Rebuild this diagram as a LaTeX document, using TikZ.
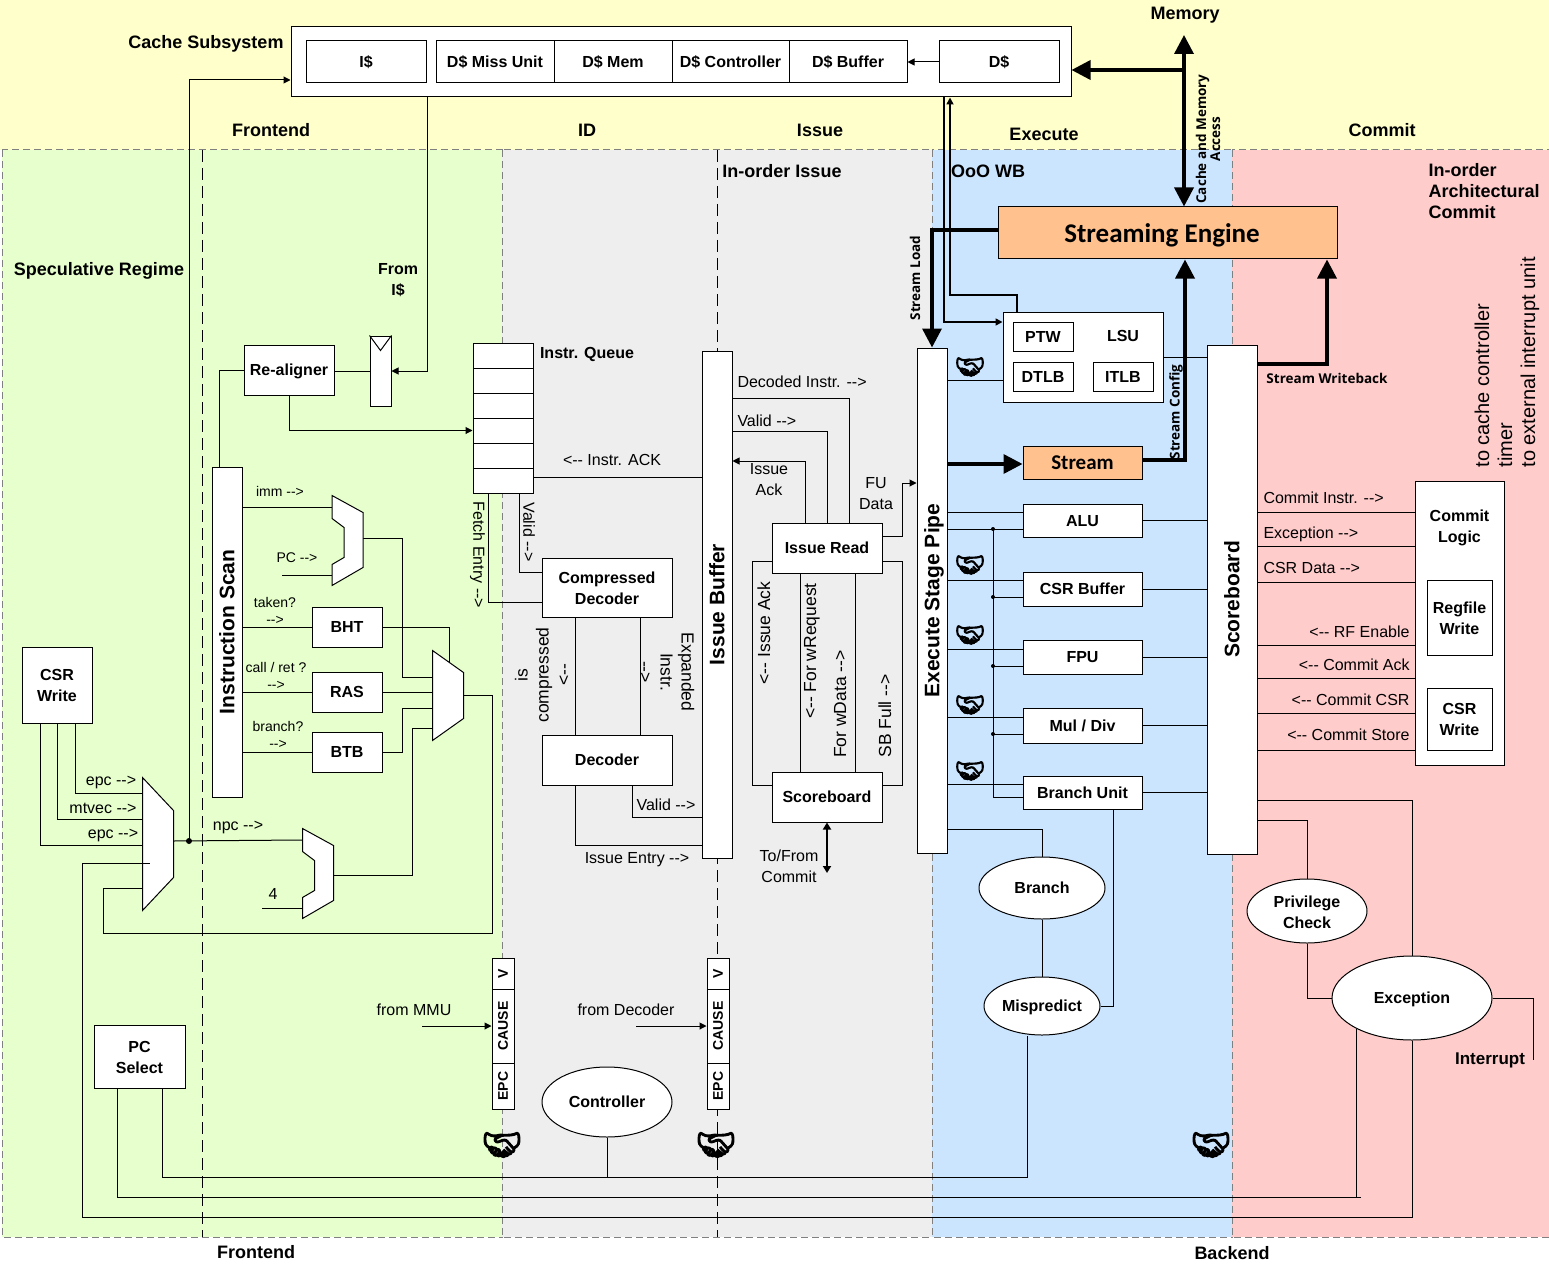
\documentclass[tikz,border=0pt]{standalone}
\usepackage{fontspec}
\setmainfont{Liberation Sans}
\newfontfamily\engfont{Carlito}
\newfontfamily\tagfont{Open Sans}
\newfontfamily\emojifont{Noto Emoji}[FakeBold=5]
\usetikzlibrary{arrows.meta,shapes.geometric,calc}
\definecolor{zoneyellow}{HTML}{FFFFCC}
\definecolor{zonegreen}{HTML}{E6FFCC}
\definecolor{zonegrey}{HTML}{EEEEEE}
\definecolor{zoneblue}{HTML}{CCE5FF}
\definecolor{zonered}{HTML}{FFCCCC}
\definecolor{streamfill}{HTML}{FFC28E}
\newcommand{\ra}{-{}->}
\newcommand{\la}{<-{}-}
\newcommand{\muxpoly}[2]{\draw[fill=white] (#1.north west) -- ([yshift=-#2]#1.north east) -- ([yshift=#2]#1.south east) -- (#1.south west) -- cycle;}
\newcommand{\adderpoly}[1]{\draw[fill=white] (#1.north west) -- ([yshift=-17pt]#1.north east) -- ([yshift=18pt]#1.south east) -- (#1.south west) -- ([yshift=21pt]#1.south west) -- ([xshift=12pt,yshift=28pt]#1.south west) -- ([xshift=12pt,yshift=-32pt]#1.north west) -- ([yshift=-23pt]#1.north west) -- cycle;}

\begin{document}
\begin{tikzpicture}[
  x=1pt, y=-1pt,
  line width=1pt,
  zone/.style={draw=gray, dashed, dash pattern=on 7pt off 4pt, line width=1pt},
  linebox/.style={execute at begin node={\leavevmode\rule[-0.21em]{0pt}{1.12em}}},
  box/.style 2 args={linebox, draw=black, fill=white, rectangle, minimum width=#1pt, minimum height=#2pt, inner sep=0pt, align=center, font=\fontsize{16}{21}\selectfont\bfseries},
  oval/.style 2 args={linebox, draw=black, fill=white, ellipse, minimum width=#1pt, minimum height=#2pt, inner sep=0pt, align=center, font=\fontsize{16}{21}\selectfont\bfseries},
  boxtext/.style={linebox, inner sep=0pt, align=center, font=\fontsize{16}{21}\selectfont\bfseries},
  muxbase/.style 2 args={minimum width=#1pt, minimum height=#2pt, inner sep=0pt},
  lab/.style={linebox, inner sep=0pt, align=center, font=\fontsize{16}{21}\selectfont},
  small/.style={linebox, inner sep=0pt, align=center, font=\fontsize{14}{17}\selectfont},
  rotlab/.style={linebox, inner sep=0pt, align=center, font=\fontsize{17.5}{21}\selectfont},
  head/.style={linebox, inner sep=0pt, align=center, font=\fontsize{18}{21}\selectfont\bfseries},
  barlab/.style={linebox, inner sep=0pt, rotate=90, font=\fontsize{21}{24}\selectfont\bfseries},
  fieldlab/.style={linebox, inner sep=0pt, rotate=90, font=\fontsize{14}{16}\selectfont\bfseries},
  tag/.style={inner sep=0pt, align=center, font=\fontsize{13.5}{14}\selectfont\tagfont\bfseries},
  hand/.style={inner sep=0pt, font=\fontsize{24}{24}\selectfont\emojifont},
  edge/.style={-{Triangle[length=7pt,width=7pt]}},
  heavy/.style={line width=3.5pt, -{Triangle[length=19pt,width=19pt]}},
  double line/.style={line width=1.6pt}
]
  \useasboundingbox (0,0) rectangle (1549,1265);

  % zones
  \fill[zoneyellow] (0,0) rectangle (1549,150);
  \path[zone, fill=zonegreen] (2,150) rectangle (502,1237);
  \path[zone, fill=zonegrey] (502,150) rectangle (932,1237);
  \path[zone, fill=zoneblue] (932,150) rectangle (1232,1237);
  \path[zone, fill=zonered] (1232,150) rectangle (1549,1237);
  \draw[dashed, dash pattern=on 12pt off 6pt] (202,150) -- (202,1237);
  \draw[dashed, dash pattern=on 12pt off 6pt] (717,150) -- (717,1237);

  % cache subsystem
  \node[box={780}{70}] (cache) at (681,62) {};
  \node[box={120}{42}] (icache) at (366,62) {I\$};
  \node[box={118}{42}] (missunit) at (495,62) {D\$ Miss Unit};
  \node[box={118}{42}] (dmem) at (613,62) {D\$ Mem};
  \node[box={117}{42}] (dctrl) at (730.5,62) {D\$ Controller};
  \node[box={118}{42}] (dbuf) at (848,62) {D\$ Buffer};
  \node[box={120}{42}] (dcache) at (999,62) {D\$};

  % frontend blocks
  \node[box={70}{76}] (csrw) at (57,685) {};
  \node[boxtext] (csrwtext) at (57,687.5) {CSR\\Write};
  \node[box={91}{63}] (pcsel) at (139.5,1056.5) {};
  \node[boxtext] (pcseltext) at (139.5,1059.5) {PC\\Select};
  \node[box={30}{330}] (iscan) at (227,632) {};
  \node[barlab] (iscantext) at (iscan) {Instruction Scan};
  \node[box={90}{50}] (aligner) at (289,370) {Re-aligner};
  \node[box={21}{70}] (ireg) at (380.5,371) {};
  \node[box={70}{40}] (bht) at (347,627) {BHT};
  \node[box={70}{40}] (ras) at (347,692) {RAS};
  \node[box={70}{40}] (btb) at (347,752) {BTB};
  \node[muxbase={30}{132}] (pcmux) at (158,844) {};
  \node[muxbase={30}{89}] (nextmux) at (448,695.5) {};
  \node[muxbase={30}{89}] (immadder) at (347.5,540.5) {};
  \node[muxbase={30}{89}] (npcadder) at (318,873.5) {};
  \foreach \i in {0,...,5}
    \node[box={60}{25}] (queue\i) at (503,355.5+25*\i) {};

  % decode and issue blocks
  \node[box={130}{59}] (cdec) at (607,587.5) {};
  \node[boxtext] (cdectext) at (607,589.5) {Compressed\\Decoder};
  \node[box={130}{50}] (dec) at (607,760) {Decoder};
  \node[box={30}{507}] (ibuf) at (717,604.5) {};
  \node[barlab] (ibuftext) at (ibuf) {Issue Buffer};
  \node[box={110}{50}] (iread) at (827,548) {Issue Read};
  \node[box={110}{50}] (sbsmall) at (827,797) {Scoreboard};
  \node[oval={130}{70}] (ctrl) at (607,1102) {Controller};
  \foreach \n/\x in {l/503,r/718} {
    \node[box={22}{31}] (vf\n) at (\x,973.5) {};
    \node[fieldlab] (vf\n text) at (vf\n) {V};
    \node[box={22}{74}] (cause\n) at (\x,1026) {};
    \node[fieldlab] (cause\n text) at (cause\n) {CAUSE};
    \node[box={22}{46}] (epcf\n) at (\x,1086) {};
    \node[fieldlab] (epcf\n text) at (epcf\n) {EPC};
  }

  % execute blocks
  \node[box={30}{505}] (pipe) at (932,600.5) {};
  \node[barlab] (pipetext) at (pipe) {Execute Stage Pipe};
  \node[box={160}{90}] (lsu) at (1083,357) {};
  \node[box={60}{29}] (ptw) at (1043,336.5) {PTW};
  \node[box={60}{29}] (dtlb) at (1043,376.5) {DTLB};
  \node[box={60}{29}] (itlb) at (1123,376.5) {ITLB};
  \node[box={339}{52}, fill=streamfill, font=\fontsize{27}{30}\selectfont\engfont\bfseries] (engine) at (1167.5,233) {\hspace*{-11pt}Streaming Engine};
  \node[box={119}{33}, fill=streamfill, font=\fontsize{21}{24}\selectfont\engfont\bfseries] (stream) at (1082.5,462.5) {Stream};
  \node[box={119}{33}] (alu) at (1082.5,520.5) {ALU};
  \node[box={119}{34}] (csrbuf) at (1082.5,589) {CSR Buffer};
  \node[box={119}{34}] (fpu) at (1082.5,657) {FPU};
  \node[box={119}{35}] (muldiv) at (1082.5,725.5) {Mul / Div};
  \node[box={119}{33}] (branchu) at (1082.5,792.5) {Branch Unit};
  \node[oval={126}{62}] (branch) at (1042,888) {Branch};
  \node[oval={116}{58}] (mispred) at (1042,1006) {Mispredict};

  % commit blocks
  \node[box={50}{509}] (score) at (1232,599.5) {};
  \node[barlab] (scoretext) at (score) {Scoreboard};
  \node[box={89}{284}] (clogic) at (1459.5,623) {};
  \node[box={65}{75}] (regw) at (1459.5,617.5) {};
  \node[boxtext] (regwtext) at (1459.5,620) {Regfile\\Write};
  \node[box={65}{62}] (ccsr) at (1459.5,719) {};
  \node[boxtext] (ccsrtext) at (1459.5,721) {CSR\\Write};
  \node[oval={120}{64}] (priv) at (1307,911) {};
  \node[boxtext] (privtext) at (1307,913.5) {Privilege\\Check};
  \node[oval={160}{84}] (except) at (1412,998) {Exception};
  \coordinate (memtip) at (1184,35);
  \coordinate (membus) at (1184,70);
  \coordinate (irqend) at (1533,1060);

  % memory and stream paths
  \draw[heavy, {Triangle[length=19pt,width=19pt]}-{Triangle[length=19pt,width=19pt]}] (memtip) -- (engine.north -| memtip);
  \draw[heavy] (membus) -- (cache.east |- membus);
  \draw[heavy] (engine.west |- 0,230) -| (pipe.north);
  \draw[heavy] (pipe.east |- 0,464) -- (stream.west |- 0,464);
  \draw[heavy] (stream.east |- 0,460) -| (1185,0 |- engine.south);
  \draw[heavy] (score.east |- 0,364) -| (1327,0 |- engine.south);
  \draw[double line, edge] (944,0 |- cache.south) |- (lsu.west |- 0,322);
  \draw[double line, edge] (1017,0 |- lsu.north) -- (1017,295) -| (950,0 |- cache.south);
  \draw[edge] (dcache.west) -- (dbuf.east);

  % frontend connectors
  \draw[edge] (427,0 |- cache.south) |- (ireg.east);
  \draw (ireg.west) -- (aligner.east |- ireg.west);
  \draw (aligner.west) -| (219,0 |- iscan.north);
  \draw[edge] (aligner.south) |- (queue3.west);
  \draw (iscan.east |- 0,507) -- (immadder.west |- 0,507);
  \coordinate (pcstart) at (282,575);
  \draw (pcstart) -- (immadder.west |- pcstart);
  \draw (iscan.east |- bht.west) -- (bht.west);
  \draw (iscan.east |- ras.west) -- (ras.west);
  \draw (iscan.east |- btb.west) -- (btb.west);
  \draw (immadder.east |- 0,538) -| (402,677) -- (nextmux.west |- 0,677);
  \draw (bht.east) -| (449,670);
  \draw (ras.east) -- (nextmux.west |- ras.east);
  \draw (btb.east) -| (402,708) -- (nextmux.west |- 0,708);
  \draw (npcadder.east |- 0,875) -| (412,728) -- (nextmux.west |- 0,728);
  \draw (nextmux.east) -| (492,933) -| (103,888) -- (pcmux.west |- 0,888);
  \draw (75,0 |- csrw.south) |- (pcmux.west |- 0,793);
  \draw (57,0 |- csrw.south) |- (pcmux.west |- 0,819);
  \draw (40,0 |- csrw.south) |- (pcmux.west |- 0,845);
  \draw (pcmux.east |- 0,841) -- (npcadder.west |- 0,840);
  \coordinate (pcdot) at (189,841);
  \draw[edge] (pcdot) |- (cache.west |- 0,80);
  \fill (pcdot) circle (3pt);
  \coordinate (fourstart) at (262,908);
  \draw (fourstart) -- (npcadder.west |- fourstart);
  \muxpoly{pcmux}{33pt}
  \muxpoly{nextmux}{22pt}
  \adderpoly{immadder}
  \adderpoly{npcadder}
  \draw (ireg.north west) -- ([yshift=-15pt]ireg.north) -- (ireg.north east);
  \draw (pcsel.south -| 117,0) |- (1361,1197);
  \draw (pcsel.south -| 162,0) |- (1027,1177) -- (1027,0 |- mispred.south);
  \draw (ctrl.south) -- (ctrl.south |- 0,1177);
  \draw (1412,0 |- except.south) |- (82,1217) |- (150,863);

  % decode and issue connectors
  \draw (488,0 |- queue5.south) |- (cdec.west |- 0,602);
  \draw (519,0 |- queue5.south) |- (cdec.west |- 0,572);
  \draw (queue5.east |- 0,477) -- (ibuf.west |- 0,477);
  \draw (575,0 |- cdec.south) -- (575,0 |- dec.north);
  \draw (640,0 |- cdec.south) -- (640,0 |- dec.north);
  \draw (575,0 |- dec.south) |- (ibuf.west |- 0,845);
  \draw (632,0 |- dec.south) |- (ibuf.west |- 0,817);
  \draw (ibuf.east |- 0,398) -| (849,0 |- iread.north);
  \draw (ibuf.east |- 0,431) -| (827,0 |- iread.north);
  \draw[edge] (805,0 |- iread.north) |- (ibuf.east |- 0,461);
  \draw[edge] (iread.east |- 0,536) -| (902,483) -- (pipe.west |- 0,483);
  \draw (iread.west |- 0,561) -| (752,785) -- (sbsmall.west |- 0,785);
  \draw (iread.east |- 0,561) -| (902,785) -- (sbsmall.east |- 0,785);
  \draw (800,0 |- iread.south) -- (800,0 |- sbsmall.north);
  \draw (855,0 |- iread.south) -- (855,0 |- sbsmall.north);
  \coordinate (commitend) at (827,873);
  \draw[line width=2.5pt, {Triangle[length=7pt,width=8pt]}-{Triangle[length=7pt,width=8pt]}] (sbsmall.south) -- (commitend);
  \coordinate (mmustart) at (422,1026);
  \coordinate (decstart) at (636,1026);
  \draw[edge] (mmustart) -- (causel.west);
  \draw[edge] (decstart) -- (causer.west);

  % execute connectors
  \draw (pipe.east |- 0,380) -- (lsu.west |- 0,380);
  \draw (lsu.east |- 0,357) -- (score.west |- 0,357);
  \draw (pipe.east |- 0,512) -- (alu.west |- 0,512);
  \draw (pipe.east |- 0,529) -- (alu.west |- 0,529);
  \draw (pipe.east |- 0,580) -- (csrbuf.west |- 0,580);
  \draw (pipe.east |- 0,649) -- (fpu.west |- 0,649);
  \draw (pipe.east |- 0,717) -- (muldiv.west |- 0,717);
  \draw (pipe.east |- 0,784) -- (branchu.west |- 0,784);
  \coordinate (fubus) at (993,529);
  \draw (fubus) |- (branchu.west |- 0,797);
  \foreach \fu/\y in {csrbuf/597,fpu/666,muldiv/734} {
    \draw (993,\y) -- (\fu.west |- 0,\y);
    \fill (993,\y) circle (2pt);
  }
  \fill (fubus) circle (2pt);
  \foreach \fu in {alu,csrbuf,fpu,muldiv,branchu}
    \draw (\fu.east) -- (score.west |- \fu.east);
  \draw (pipe.east |- 0,829) -| (branch.north);
  \draw (branch.south) -- (mispred.north);
  \draw (1113,0 |- branchu.south) |- (mispred.east);

  % commit connectors
  \foreach \y in {512,546,582,645,678,713,750}
    \draw (score.east |- 0,\y) -- (clogic.west |- 0,\y);
  \draw (score.east |- 0,820) -| (priv.north);
  \draw (priv.south) |- (except.west);
  \draw (score.east |- 0,800) -| (except.north);
  \draw (except.east) -| (irqend);
  \draw (1356,0 |- except.south) ++(0,-12) -- (1356,1197);

  % zone titles and labels
  \node[head] (cachelab) at (206,42) {Cache Subsystem};
  \node[head] (memlab) at (1185,13) {Memory};
  \node[head] (frontlab) at (271,130) {Frontend};
  \node[head] (idlab) at (587,130) {ID};
  \node[head] (issuelab) at (820,130) {Issue};
  \node[head] (execlab) at (1044,134) {Execute};
  \node[head] (commitlab) at (1382,130) {Commit};
  \node[head] (inorderlab) at (782,171) {In-order Issue};
  \node[head] (ooolab) at (988,171) {OoO WB};
  \node[head, anchor=west, align=left] (archlab) at (1428,193) {In-order\\Architectural\\Commit};
  \node[head] (speclab) at (99,269) {Speculative Regime};
  \node[boxtext] (fromi) at (398,281.5) {From\\I\$};
  \node[boxtext] (queuelab) at (587,353) {Instr. Queue};
  \node[boxtext] (lsulab) at (1123,336) {LSU};
  \node[boxtext] (logiclab) at (1459.5,528) {Commit\\Logic};
  \node[boxtext, font=\fontsize{17}{21}\selectfont\bfseries] (irqlab) at (1490,1059) {Interrupt};
  \node[head] (backbot) at (1232,1253) {Backend};
  \node[head] (frontbot) at (256,1252) {Frontend};

  \node[small] (immlab) at (280,492) {imm \ra};
  \node[small] (pclab) at (297,558) {PC \ra};
  \node[small] (takenlab) at (275,612.5) {taken?\\\ra};
  \node[small] (calllab) at (276,677.5) {call / ret ?\\\ra};
  \node[small] (brlab) at (278,736.5) {branch?\\\ra};
  \node[lab] (epcone) at (111,780) {epc \ra};
  \node[lab] (mtvec) at (103,808) {mtvec \ra};
  \node[lab] (epctwo) at (113,833) {epc \ra};
  \node[lab] (npclab) at (238,825) {npc \ra};
  \node[lab] (fourlab) at (273,894) {4};
  \node[lab] (mmulab) at (414,1010) {from MMU};
  \node[lab] (declab) at (626,1010) {from Decoder};
  \node[lab, rotate=-90] (fetchlab) at (479,555) {Fetch Entry \ra};
  \node[lab, rotate=-90] (validq) at (529,532) {Valid \ra};
  \node[lab] (acklab) at (612,460) {\la{} Instr. ACK};
  \node[rotlab, rotate=90] (iscomp) at (544,675) {is\\compressed\\\la};
  \node[rotlab, rotate=-90] (expand) at (665,672) {Expanded\\Instr.\\\ra};
  \node[lab] (validd) at (666,805) {Valid \ra};
  \node[lab] (entrylab) at (637,858) {Issue Entry \ra};
  \node[lab, anchor=west] (decodedlab) at (737,382) {Decoded Instr. \ra};
  \node[lab, anchor=west] (validi) at (737,421) {Valid \ra};
  \node[lab] (issueack) at (769,481) {Issue\\Ack};
  \node[lab] (fudata) at (876,495) {FU\\Data};
  \node[rotlab, rotate=90] (ackv) at (764,633) {\la{} Issue Ack};
  \node[rotlab, rotate=90] (wreq) at (810,651) {\la{} For wRequest};
  \node[rotlab, rotate=90] (wdata) at (840,704) {For wData \ra};
  \node[rotlab, rotate=90] (sbfull) at (885,716) {SB Full \ra};
  \node[lab] (tofrom) at (789,867.5) {To/From\\Commit};
  \node[tag, rotate=90] (accesslab) at (1208,139) {Cache and Memory\\Access};
  \node[tag, rotate=90] (loadlab) at (915,278) {Stream Load};
  \node[tag, rotate=90] (configlab) at (1176,412) {Stream Config};
  \node[tag] (wblab) at (1327,378) {Stream Writeback};
  \node[lab, anchor=west] (cinstr) at (1263,498) {Commit Instr. \ra};
  \node[lab, anchor=west] (cexc) at (1263,533) {Exception \ra};
  \node[lab, anchor=west] (cdata) at (1263,568) {CSR Data \ra};
  \node[lab, anchor=east] (rfen) at (1410,632) {\la{} RF Enable};
  \node[lab, anchor=east] (cack) at (1410,665) {\la{} Commit Ack};
  \node[lab, anchor=east] (ccsrlab) at (1410,700) {\la{} Commit CSR};
  \node[lab, anchor=east] (cstore) at (1410,735) {\la{} Commit Store};
  \node[lab, rotate=90, anchor=west, align=left, font=\fontsize{20}{23}\selectfont] (extlab) at (1507,468) {to cache controller\\timer\\to external interrupt unit};

  % handshakes
  \foreach \i/\x/\y in {a/970/367,b/970/565,c/970/635,d/970/705,e/970/771}
    \node[hand] (hand\i) at (\x,\y) {\char"1F91D};
  \foreach \i/\x/\y in {f/502/1145,g/716/1145,h/1211/1145}
    \node[hand, font=\fontsize{32}{32}\selectfont\emojifont] (hand\i) at (\x,\y) {\char"1F91D};
\end{tikzpicture}
\end{document}
